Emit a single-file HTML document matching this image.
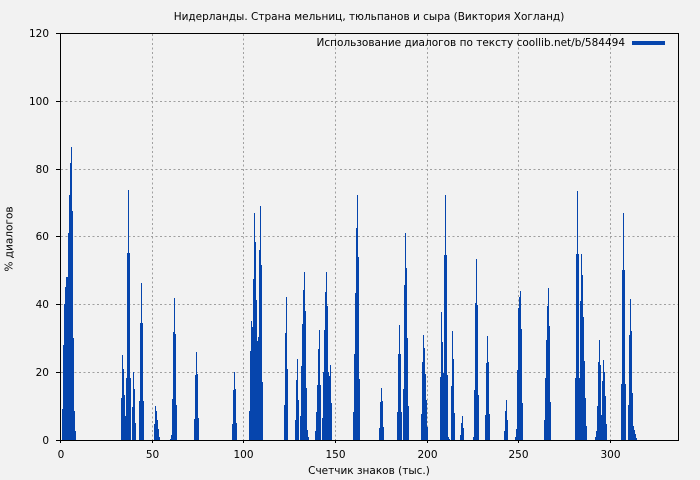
<!DOCTYPE html>
<html>
<head>
<meta charset="utf-8">
<style>
  html,body{margin:0;padding:0;background:#f2f2f2;}
  svg{display:block;}
  text{font-family:"DejaVu Sans","Liberation Sans",sans-serif;font-size:10.5px;fill:#000;}
</style>
</head>
<body>
<svg width="700" height="480" viewBox="0 0 700 480" xmlns="http://www.w3.org/2000/svg">
  <rect x="0" y="0" width="700" height="480" fill="#f2f2f2"/>

  <!-- grid -->
  <g stroke="#a0a0a0" stroke-width="1" stroke-dasharray="2,2.5" fill="none" shape-rendering="crispEdges">
    <line x1="61" y1="372.5" x2="678" y2="372.5"/>
    <line x1="61" y1="304.5" x2="678" y2="304.5"/>
    <line x1="61" y1="236.5" x2="678" y2="236.5"/>
    <line x1="61" y1="169.5" x2="678" y2="169.5"/>
    <line x1="61" y1="101.5" x2="678" y2="101.5"/>
    <line x1="152.5" y1="34" x2="152.5" y2="440"/>
    <line x1="243.5" y1="34" x2="243.5" y2="440"/>
    <line x1="335.5" y1="34" x2="335.5" y2="440"/>
    <line x1="427.5" y1="34" x2="427.5" y2="440"/>
    <line x1="518.5" y1="34" x2="518.5" y2="440"/>
    <line x1="610.5" y1="34" x2="610.5" y2="440"/>
  </g>

  <!-- bars -->
  <path fill="#0645ad" shape-rendering="crispEdges" d="
M62 440V409H63V345H64V304H65V287H66V277H68V233H69V195H70V163H71V147H72V211H73V338H74V411H75V431H76V440Z
M121 440V398H122V355H123V369H124V395H125V416H126V378H127V253H128V190H129V253H130V378H131V440Z
M132 440V407H133V372H134V389H135V423H136V440Z
M139 440V401H140V323H141V283H142V323H143V401H144V440Z
M154 440V424H155V406H156V411H157V420H158V429H159V437H160V440Z
M170 440V439H171V435H172V399H173V332H174V298H175V334H176V405H177V440Z
M194 440V419H195V375H196V352H197V374H198V418H199V440Z
M232 440V424H233V390H234V372H235V389H236V423H237V440Z
M249 440V411H250V351H251V321H252V327H253V279H254V213H255V242H256V300H257V341H258V337H259V250H260V206H261V265H262V382H263V440Z
M284 440V405H285V333H286V297H287V369H288V440Z
M295 440V420H296V380H297V359H298V400H299V440Z
M300 440V416H301V366H302V324H303V290H304V272H305V311H306V388H307V430H308V437H309V440Z
M315 440V431H316V412H317V385H318V349H319V330H320V385H321V440Z
M322 440V418H323V372H324V330H325V292H326V272H327V306H328V372H329V376H330V365H331V403H332V440Z
M353 440V412H354V354H355V293H356V228H357V195H358V257H359V379H360V440Z
M379 440V428H380V402H381V388H382V401H383V427H384V440Z
M397 440V412H398V354H399V325H400V354H401V412H402V440Z
M403 440V389H404V285H405V233H406V268H407V338H408V406H409V440Z
M421 440V414H422V362H423V335H424V348H425V374H426V400H427V427H428V440Z
M440 440V377H441V312H442V342H443V373H444V255H445V195H446V255H447V375H448V437H449V439H450V440Z
M451 440V386H452V331H453V359H454V413H455V440Z
M460 440V435H461V423H462V416H463V428H464V440Z
M473 440V437H474V390H475V303H476V259H477V305H478V395H479V440Z
M485 440V415H486V363H487V336H488V362H489V414H490V440Z
M504 440V431H505V411H506V400H507V420H508V440Z
M515 440V437H516V429H517V370H518V308H519V297H520V291H521V329H522V403H523V440Z
M544 440V420H545V378H546V340H547V306H548V288H549V326H550V402H551V440Z
M575 440V378H576V254H577V191H578V254H579V378H580V301H581V254H582V275H583V317H584V361H585V398H586V426H587V440Z
M595 440V437H596V431H597V406H598V362H599V340H600V365H601V415H602V381H603V360H604V372H605V396H606V424H607V440Z
M621 440V384H622V270H623V213H624V270H625V384H626V440Z
M628 440V405H629V335H630V299H631V331H632V393H633V426H634V430H635V434H636V438H637V440Z
"/>

  <!-- frame -->
  <rect x="60.5" y="33.5" width="618" height="407" fill="none" stroke="#000" stroke-width="1" shape-rendering="crispEdges"/>

  <!-- ticks -->
  <g stroke="#000" stroke-width="1" shape-rendering="crispEdges">
    <line x1="56" y1="440.5" x2="60.5" y2="440.5"/>
    <line x1="56" y1="372.5" x2="60.5" y2="372.5"/>
    <line x1="56" y1="304.5" x2="60.5" y2="304.5"/>
    <line x1="56" y1="236.5" x2="60.5" y2="236.5"/>
    <line x1="56" y1="169.5" x2="60.5" y2="169.5"/>
    <line x1="56" y1="101.5" x2="60.5" y2="101.5"/>
    <line x1="56" y1="33.5" x2="60.5" y2="33.5"/>
    <line x1="60.5" y1="440.5" x2="60.5" y2="443"/>
    <line x1="152.5" y1="440.5" x2="152.5" y2="443"/>
    <line x1="243.5" y1="440.5" x2="243.5" y2="443"/>
    <line x1="335.5" y1="440.5" x2="335.5" y2="443"/>
    <line x1="427.5" y1="440.5" x2="427.5" y2="443"/>
    <line x1="518.5" y1="440.5" x2="518.5" y2="443"/>
    <line x1="610.5" y1="440.5" x2="610.5" y2="443"/>
  </g>

  <!-- y tick labels -->
  <g text-anchor="end">
    <text x="49" y="444">0</text>
    <text x="49" y="376">20</text>
    <text x="49" y="308">40</text>
    <text x="49" y="240">60</text>
    <text x="49" y="173">80</text>
    <text x="49" y="105">100</text>
    <text x="49" y="37">120</text>
  </g>

  <!-- x tick labels -->
  <g text-anchor="middle">
    <text x="61" y="458">0</text>
    <text x="152.5" y="458">50</text>
    <text x="243.5" y="458">100</text>
    <text x="335.5" y="458">150</text>
    <text x="427.5" y="458">200</text>
    <text x="518.5" y="458">250</text>
    <text x="610.5" y="458">300</text>
  </g>

  <!-- title -->
  <text x="369" y="20" text-anchor="middle">Нидерланды. Страна мельниц, тюльпанов и сыра (Виктория Хогланд)</text>

  <!-- axis titles -->
  <text x="369" y="474" text-anchor="middle">Счетчик знаков (тыс.)</text>
  <text transform="translate(12.5,239) rotate(-90)" text-anchor="middle">% диалогов</text>

  <!-- legend -->
  <text x="625" y="46" text-anchor="end">Использование диалогов по тексту coollib.net/b/584494</text>
  <rect x="632" y="41" width="33" height="4" fill="#0645ad"/>
</svg>
</body>
</html>
